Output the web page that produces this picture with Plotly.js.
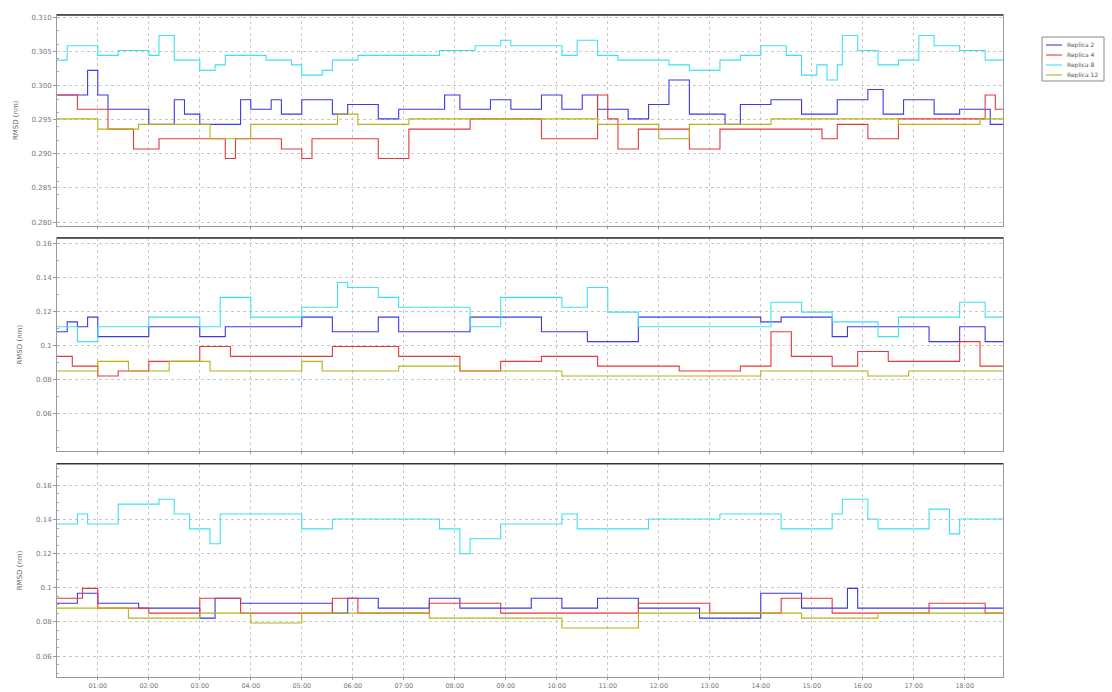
<!DOCTYPE html>
<html>
<head>
<meta charset="utf-8">
<script src="https://cdn.plot.ly/plotly-3.0.1.min.js"></script>
<style>html,body{margin:0;padding:0;background:#fff}#chart{width:1112px;height:692px}</style>
</head>
<body>
<div id="chart"></div>
<script>
// ---------- data ----------
const seriesNames = ["Replica 2", "Replica 4", "Replica 8", "Replica 12"];
const tickPositions = [8, 18, 28, 38, 48, 58, 68, 78, 88, 98, 108, 118, 128, 138, 148, 158, 168, 178];
const tickLabels = ["01:00","02:00","03:00","04:00","05:00","06:00","07:00","08:00","09:00",
                    "10:00","11:00","12:00","13:00","14:00","15:00","16:00","17:00","18:00"];
const yTitle = "RMSD (nm)";

// Panel 1 (step change points: time, value)
const p1BlueT = [0,6,8,10,18,23,25,28,36,38,42,44,48,54,57,63,67,76,79,85,89,95,99,103,106,112,116,120,124,131,134,140,146,153,159,162,166,172,177,183,185.5];
const p1BlueV = [.2986,.3022,.2986,.2965,.2943,.2979,.2958,.2943,.2979,.2965,.2979,.2958,.2979,.2958,.2972,.2951,.2965,.2986,.2965,.2979,.2965,.2986,.2965,.2986,.2965,.2951,.2972,.3008,.2958,.2943,.2972,.2979,.2958,.2979,.2994,.2958,.2979,.2958,.2965,.2943,.2943];
const p1RedT = [0,4,10,15,20,33,35,44,48,50,63,69,81,95,106,108,110,114,124,130,150,153,159,165,182,184,185.5];
const p1RedV = [.2986,.2965,.2936,.2907,.2922,.2893,.2922,.2907,.2893,.2922,.2893,.2936,.2951,.2922,.2986,.2951,.2907,.2936,.2907,.2936,.2922,.2943,.2922,.2951,.2986,.2965,.2965];
const p1CyanT = [0,2,8,12,18,20,23,28,31,33,41,46,48,52,54,59,75,82,87,89,99,102,106,110,120,124,130,134,138,143,146,149,151,153,154,157,161,165,169,172,177,182,185.5];
const p1CyanV = [.3037,.3058,.3044,.3051,.3044,.3073,.3037,.3022,.3030,.3044,.3037,.3030,.3015,.3022,.3037,.3044,.3051,.3058,.3066,.3058,.3044,.3066,.3044,.3037,.3030,.3022,.3037,.3044,.3058,.3044,.3015,.3030,.3008,.3030,.3073,.3051,.3030,.3037,.3073,.3058,.3051,.3037,.3037];
const p1OliveT = [0,8,16,30,38,55,59,69,106,118,124,140,165,181,185.5];
const p1OliveV = [.2951,.2936,.2943,.2922,.2943,.2958,.2943,.2951,.2943,.2922,.2943,.2951,.2943,.2951,.2951];

// Panel 2
const p2BlueT = [0,2,4,6,8,18,28,33,48,54,63,67,81,95,104,114,138,142,152,155,171,177,182,185.5];
const p2BlueV = [.1080,.1138,.1109,.1166,.1051,.1109,.1051,.1109,.1166,.1080,.1166,.1080,.1166,.1080,.1022,.1166,.1138,.1166,.1051,.1109,.1022,.1109,.1022,.1022];
const p2RedT = [0,3,8,12,18,28,34,54,67,79,87,95,106,122,134,140,144,152,157,163,177,181,185.5];
const p2RedV = [.0935,.0878,.0820,.0849,.0906,.0993,.0935,.0993,.0935,.0849,.0906,.0935,.0878,.0849,.0878,.1080,.0935,.0878,.0964,.0906,.1022,.0878,.0878];
const p2CyanT = [0,4,8,18,28,32,38,48,55,57,63,67,81,87,99,104,108,114,140,146,152,161,165,177,182,185.5];
const p2CyanV = [.1109,.1022,.1109,.1166,.1109,.1282,.1166,.1224,.1369,.1340,.1282,.1224,.1109,.1282,.1224,.1340,.1195,.1109,.1253,.1195,.1138,.1051,.1166,.1253,.1166,.1166];
const p2OliveT = [0,8,14,22,30,48,52,67,79,99,138,159,167,185.5];
const p2OliveV = [.0849,.0906,.0849,.0906,.0849,.0906,.0849,.0878,.0849,.0820,.0849,.0820,.0849,.0849];

// Panel 3
const p3BlueT = [0,4,8,16,28,31,36,54,57,63,73,79,93,99,106,114,126,138,146,155,157,185.5];
const p3BlueV = [.0910,.0968,.0910,.0881,.0823,.0939,.0910,.0852,.0939,.0881,.0939,.0881,.0939,.0881,.0939,.0881,.0823,.0968,.0881,.0997,.0881,.0881];
const p3RedT = [0,5,8,18,28,36,54,59,73,87,114,128,142,152,171,182,185.5];
const p3RedV = [.0939,.0997,.0881,.0852,.0939,.0852,.0939,.0852,.0910,.0852,.0910,.0852,.0939,.0852,.0910,.0852,.0852];
const p3CyanT = [0,4,6,12,20,23,26,30,32,48,54,75,79,81,87,99,102,116,130,142,152,154,159,161,171,175,177,185.5];
const p3CyanV = [.1374,.1432,.1374,.1490,.1519,.1432,.1345,.1258,.1432,.1345,.1403,.1345,.1200,.1287,.1374,.1432,.1345,.1403,.1432,.1345,.1432,.1519,.1403,.1345,.1461,.1316,.1403,.1403];
const p3OliveT = [0,14,28,38,48,73,99,114,146,161,185.5];
const p3OliveV = [.0881,.0823,.0852,.0794,.0852,.0823,.0765,.0852,.0823,.0852,.0852];

// ---------- styling ----------
const colors = {blue: "#3a3ae6", red: "#e23a3a", cyan: "#3fe0f2", olive: "#b8b218"};
const legendColors = [colors.blue, colors.red, colors.cyan, colors.olive];
const FONT = "DejaVu Sans, Arial, sans-serif";

const panels = [
  {ax: "", blue: [p1BlueT, p1BlueV], red: [p1RedT, p1RedV], cyan: [p1CyanT, p1CyanV], olive: [p1OliveT, p1OliveV]},
  {ax: "2", blue: [p2BlueT, p2BlueV], red: [p2RedT, p2RedV], cyan: [p2CyanT, p2CyanV], olive: [p2OliveT, p2OliveV]},
  {ax: "3", blue: [p3BlueT, p3BlueV], red: [p3RedT, p3RedV], cyan: [p3CyanT, p3CyanV], olive: [p3OliveT, p3OliveV]}
];
const order = [["blue", 0], ["red", 1], ["cyan", 2], ["olive", 3]];

const traces = [];
panels.forEach((p, i) => {
  order.forEach(([key, idx]) => {
    traces.push({
      x: p[key][0], y: p[key][1],
      xaxis: "x" + p.ax, yaxis: "y" + p.ax,
      type: "scatter", mode: "lines",
      line: {shape: "hv", color: colors[key], width: 1.1},
      name: seriesNames[idx],
      showlegend: false,
      hoverinfo: "skip"
    });
  });
});

function xax(showLabels) {
  return {
    range: [0, 185.5], tickvals: tickPositions, ticktext: tickLabels,
    showticklabels: showLabels, ticks: "outside", ticklen: 2, tickcolor: "#999",
    showgrid: true, gridcolor: "#c8c8c8", griddash: "dot", gridwidth: 1,
    showline: true, linecolor: "#9a9a9a", mirror: true, zeroline: false,
    tickfont: {family: FONT, size: 6.5, color: "#777"}
  };
}
function yax(range, tickvals, fmt, dom, anchor) {
  return {
    domain: dom, range: range, tickvals: tickvals, tickformat: fmt,
    anchor: anchor,
    ticks: "outside", ticklen: 3, tickcolor: "#999",
    minor: {ticks: "inside", ticklen: 2, tickcolor: "#aaa", nticks: 5, showgrid: false},
    showgrid: true, gridcolor: "#c8c8c8", griddash: "dot", gridwidth: 1,
    showline: true, linecolor: "#9a9a9a", mirror: true, zeroline: false,
    tickfont: {family: FONT, size: 7, color: "#777"},
    title: {text: yTitle, font: {family: FONT, size: 7, color: "#666"}, standoff: 12}
  };
}

// legend box built in pixel space (plot area: x 57..1003, y 15..677)
const W = 946, H = 662, L = 57, B = 677;
const px = v => (v - L) / W;
const py = v => (B - v) / H;
const shapes = ["", "2", "3"].map(a => ({
  type: "line", xref: "x" + a + " domain", yref: "y" + a + " domain",
  x0: 0, x1: 1, y0: 1, y1: 1, line: {color: "#333", width: 1.5}
}));
shapes.push({type: "rect", xref: "paper", yref: "paper",
  x0: px(1042), x1: px(1104), y0: py(81), y1: py(37),
  line: {color: "#888", width: 1}, fillcolor: "#fff"});
const annotations = [];
seriesNames.forEach((nm, k) => {
  const yy = 45 + k * 10;
  shapes.push({type: "line", xref: "paper", yref: "paper",
    x0: px(1046), x1: px(1062), y0: py(yy), y1: py(yy),
    line: {color: legendColors[k], width: 1.1}});
  annotations.push({xref: "paper", yref: "paper", x: px(1065), y: py(yy),
    xanchor: "left", yanchor: "middle", showarrow: false, text: nm,
    font: {family: FONT, size: 6, color: "#555"}});
});

const layout = {
  width: 1112, height: 692,
  margin: {l: 57, r: 109, t: 15, b: 15, autoexpand: false},
  paper_bgcolor: "#fff", plot_bgcolor: "#fff",
  showlegend: false,
  xaxis: Object.assign(xax(false), {anchor: "y", matches: "x3"}),
  xaxis2: Object.assign(xax(false), {anchor: "y2", matches: "x3"}),
  xaxis3: Object.assign(xax(true), {anchor: "y3"}),
  yaxis: yax([0.2795, 0.3103], [0.280, 0.285, 0.290, 0.295, 0.300, 0.305, 0.310], ".3f", [0.682, 1], "x"),
  yaxis2: yax([0.0378, 0.1630], [0.06, 0.08, 0.10, 0.12, 0.14, 0.16], "", [0.341, 0.663], "x2"),
  yaxis3: yax([0.0478, 0.1726], [0.06, 0.08, 0.10, 0.12, 0.14, 0.16], "", [0, 0.322], "x3"),
  shapes: shapes,
  annotations: annotations
};

Plotly.newPlot("chart", traces, layout, {staticPlot: true, displayModeBar: false});
</script>
</body>
</html>
